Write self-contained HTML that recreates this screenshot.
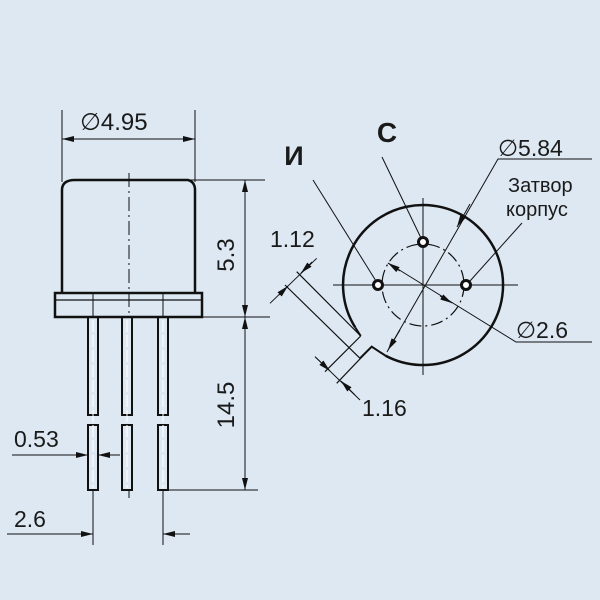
<!DOCTYPE html>
<html><head><meta charset="utf-8"><style>
html,body{margin:0;padding:0;background:#dde8f3;}
svg{display:block;}
text{font-family:"Liberation Sans","DejaVu Sans",sans-serif;fill:#1a1a1a;}
</style></head><body>
<svg width="600" height="600" viewBox="0 0 600 600" xmlns="http://www.w3.org/2000/svg">
<defs>
<marker id="a" viewBox="0 0 12 6" refX="12" refY="3" markerWidth="12" markerHeight="6" orient="auto-start-reverse" markerUnits="userSpaceOnUse"><path d="M0,0 L12,3 L0,6 z" fill="#111"/></marker>
</defs>
<rect width="600" height="600" fill="#dde8f3"/>
<g stroke="#111" fill="none">
<line x1="62" y1="110" x2="62" y2="182" stroke-width="1"/>
<line x1="195" y1="110" x2="195" y2="182" stroke-width="1"/>
<line x1="62" y1="139" x2="195" y2="139" stroke-width="1" marker-start="url(#a)" marker-end="url(#a)"/>
<path d="M62,293 L62,190 Q62,180 75,180 L188,180 Q195,182 195,190 L195,293" stroke-width="2.5"/>
<line x1="188" y1="180" x2="265" y2="180" stroke-width="1"/>
<rect x="55" y="293" width="147" height="24" stroke-width="2.5"/>
<line x1="55" y1="300" x2="202" y2="300" stroke-width="1.2"/>
<line x1="202" y1="317" x2="270" y2="317" stroke-width="1"/>
<line x1="129" y1="173" x2="129" y2="318" stroke-width="1" stroke-dasharray="14,4,2,4"/>
<g stroke-width="2">
<rect x="88" y="317" width="10" height="98"/><rect x="88" y="425" width="10" height="65"/>
<rect x="122" y="317" width="10" height="98"/><rect x="122" y="425" width="10" height="65"/>
<rect x="158" y="317" width="10" height="98"/><rect x="158" y="425" width="10" height="65"/>
</g>
<g stroke-width="1" stroke="#fff" stroke-dasharray="12,3">
<line x1="93" y1="320" x2="93" y2="488"/><line x1="127" y1="320" x2="127" y2="488"/><line x1="163" y1="320" x2="163" y2="488"/>
</g>
<line x1="93" y1="293" x2="93" y2="317" stroke-width="1"/>
<line x1="163" y1="293" x2="163" y2="317" stroke-width="1"/>
<line x1="129" y1="490" x2="129" y2="498" stroke-width="1"/>
<line x1="93" y1="490" x2="93" y2="545" stroke-width="1"/>
<line x1="163" y1="490" x2="163" y2="545" stroke-width="1"/>
<line x1="168" y1="490" x2="258" y2="490" stroke-width="1"/>
<line x1="245" y1="180" x2="245" y2="317" stroke-width="1" marker-start="url(#a)" marker-end="url(#a)"/>
<line x1="245" y1="317" x2="245" y2="490" stroke-width="1" marker-start="url(#a)" marker-end="url(#a)"/>
<line x1="12" y1="455" x2="88" y2="455" stroke-width="1" marker-end="url(#a)"/>
<line x1="120" y1="455" x2="98" y2="455" stroke-width="1" marker-end="url(#a)"/>
<line x1="7" y1="534" x2="93" y2="534" stroke-width="1" marker-end="url(#a)"/>
<line x1="190" y1="534" x2="163" y2="534" stroke-width="1" marker-end="url(#a)"/>

<path d="M355.2,327.4 A80,80 0 1 1 385.4,355.6" stroke-width="2.5"/>
<path d="M355.2,327.4 L360.7,336" stroke-width="2"/>
<path d="M385.4,355.6 L371.7,346.7 L360,358.3" stroke-width="2"/>
<circle cx="423" cy="285" r="41" stroke-width="1.2" stroke-dasharray="12,4,2,4"/>
<line x1="333" y1="285" x2="518" y2="285" stroke-width="1"/>
<line x1="423" y1="198" x2="423" y2="375" stroke-width="1"/>
<circle cx="423" cy="242" r="4.5" stroke-width="3" fill="#fff"/>
<circle cx="378" cy="285" r="4.5" stroke-width="3" fill="#fff"/>
<circle cx="466" cy="285" r="4.5" stroke-width="3" fill="#fff"/>
<line x1="296.7" y1="271.7" x2="360.7" y2="336" stroke-width="1.2"/>
<line x1="285" y1="285" x2="360" y2="358.3" stroke-width="1.2"/>
<line x1="360.7" y1="336" x2="325" y2="371.7" stroke-width="1.2"/>
<line x1="371.7" y1="346.7" x2="336.7" y2="383.3" stroke-width="1.2"/>
<line x1="316.7" y1="258.3" x2="270" y2="303.3" stroke-width="1"/>
<path d="M312,262 L301,273" stroke-width="1" marker-end="url(#a)"/>
<path d="M279,295 L288,286" stroke-width="1" marker-end="url(#a)"/>
<line x1="315" y1="356.7" x2="360" y2="400" stroke-width="1"/>
<path d="M315,356.7 L330,371" stroke-width="1" marker-end="url(#a)"/>
<path d="M355,395 L341,381" stroke-width="1" marker-end="url(#a)"/>
<line x1="313" y1="180" x2="376" y2="281" stroke-width="1"/>
<line x1="382" y1="157" x2="421" y2="238" stroke-width="1"/>
<line x1="522" y1="223" x2="470" y2="281" stroke-width="1"/>
<path d="M592,159 L498,159 L387,352" stroke-width="1"/>
<path d="M470,204 L457,227" stroke-width="1" marker-end="url(#a)"/>
<path d="M400,330 L388,350" stroke-width="1" marker-end="url(#a)"/>
<path d="M592,342 L516,342 L388,263" stroke-width="1"/>
<path d="M400,271 L388,263" stroke-width="1" marker-end="url(#a)"/>
<path d="M440,296 L452,303" stroke-width="1" marker-end="url(#a)"/>
</g>
<text x="80" y="130" font-size="24">∅4.95</text>
<text transform="translate(234,255) rotate(-90)" font-size="24" text-anchor="middle">5.3</text>
<text transform="translate(234,405) rotate(-90)" font-size="24" text-anchor="middle">14.5</text>
<text x="14" y="447" font-size="23">0.53</text>
<text x="14" y="527" font-size="23">2.6</text>
<text x="294" y="165" font-size="27" font-weight="bold" text-anchor="middle">И</text>
<text x="387" y="142" font-size="28" font-weight="bold" text-anchor="middle">С</text>
<text x="498" y="156" font-size="23">∅5.84</text>
<text x="508" y="192" font-size="20">Затвор</text>
<text x="506" y="216" font-size="20">корпус</text>
<text x="516" y="338" font-size="23">∅2.6</text>
<text x="270" y="247" font-size="23">1.12</text>
<text x="362" y="416" font-size="23">1.16</text>
</svg>
</body></html>
